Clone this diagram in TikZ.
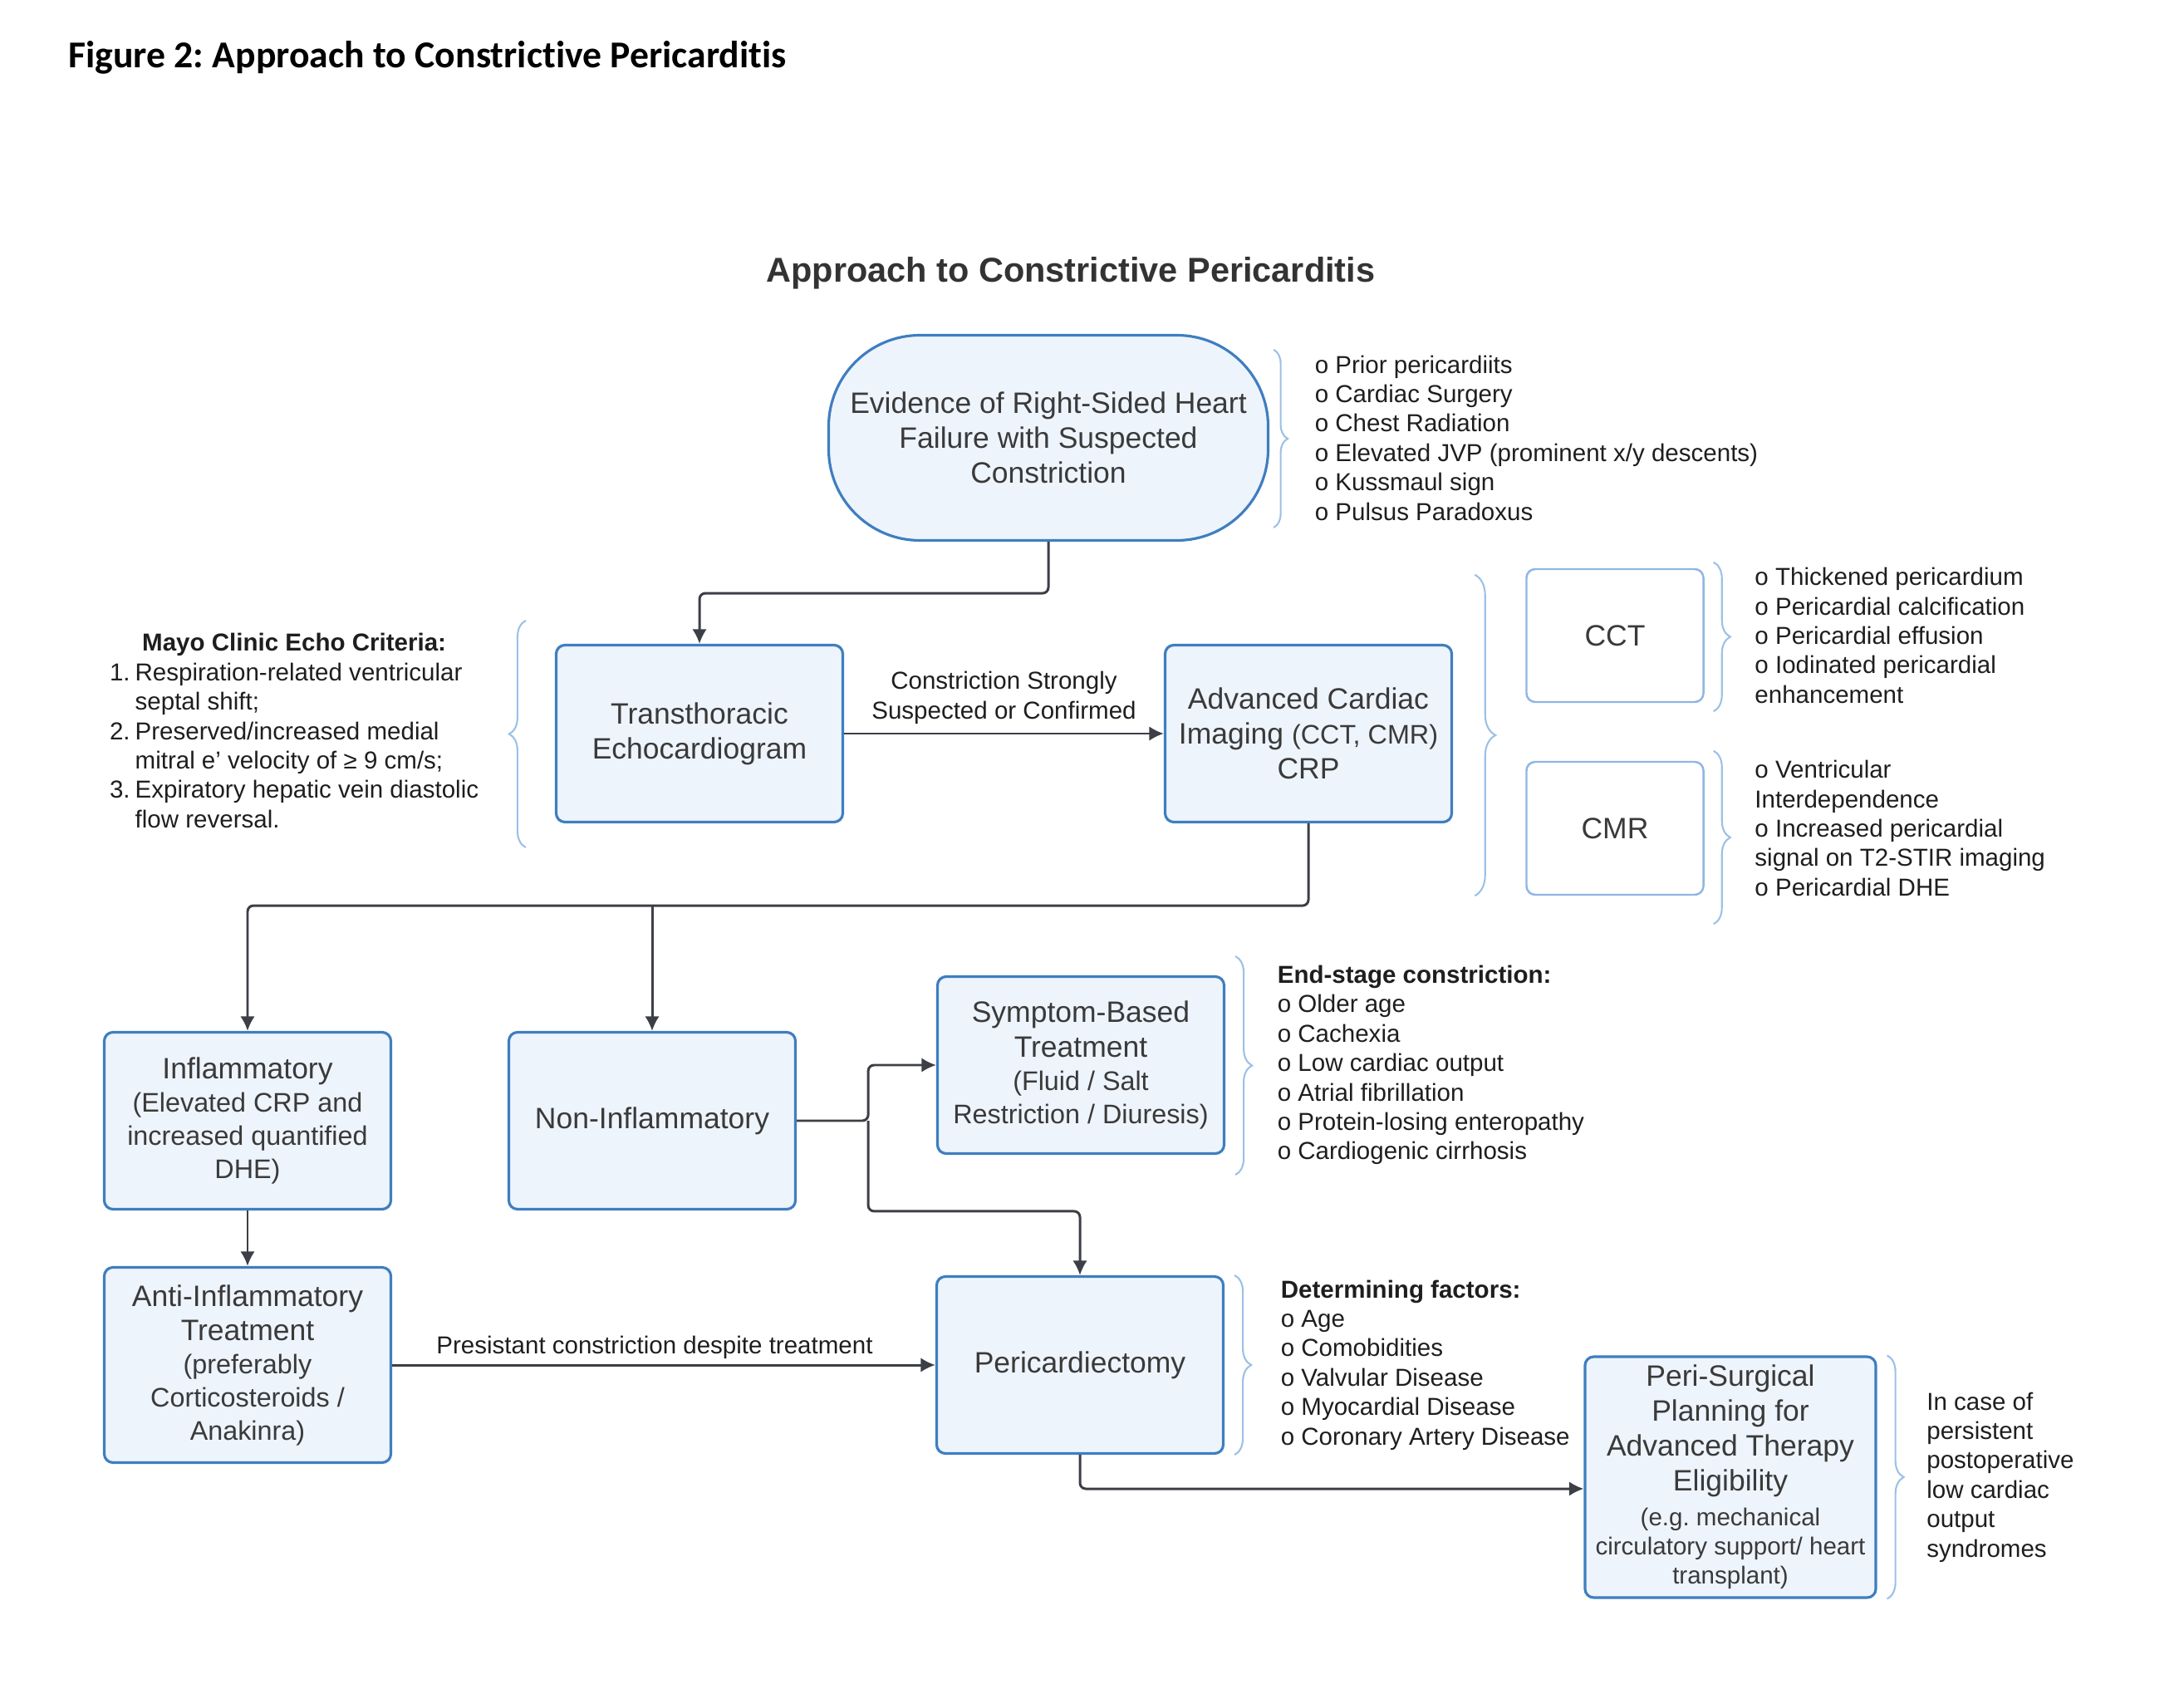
\documentclass[tikz,border=0pt]{standalone}
\usepackage{fontspec}
\setmainfont{Liberation Sans}
\newfontfamily\figfont[Ligatures=NoCommon]{Carlito}
\usetikzlibrary{positioning,arrows.meta,decorations.pathreplacing}
\frenchspacing
\hyphenpenalty=10000

\definecolor{boxfill}{HTML}{EEF4FC}
\definecolor{boxblue}{HTML}{3F7EC0}
\definecolor{thinblue}{HTML}{8EB6E3}
\definecolor{bracecol}{HTML}{9CC1E6}
\definecolor{linegray}{HTML}{3C3F45}
\definecolor{textgray}{HTML}{3A3A3A}
\definecolor{notetext}{HTML}{1E1E1E}
\definecolor{titlegray}{HTML}{333333}

\newcommand{\boxsize}{\fontsize{10.1}{11.9}\selectfont}
\newcommand{\subsize}{\fontsize{9.2}{11.3}\selectfont}
\newcommand{\notesize}{\fontsize{8.4}{10.07}\selectfont}

\begin{document}
\begin{tikzpicture}
                % Define styles
                \tikzstyle{box_main} = [font=\boxsize, rectangle, draw=boxblue, fill=boxfill, line width=0.9pt, text=textgray, text width=3.31cm, align=flush center, rounded corners=3pt, minimum height=2.13cm, inner sep=2pt]
                \tikzstyle{box_start} = [box_main, text width=5.15cm, minimum height=2.47cm, rounded corners=1.1cm]
                \tikzstyle{box_modality} = [box_main, draw=thinblue, fill=white, line width=0.7pt, text width=1.99cm, minimum height=1.6cm]
                \tikzstyle{note} = [font=\notesize, text=notetext, align=left, inner sep=0pt]
                \tikzstyle{line} = [draw=linegray, line width=0.85pt, rounded corners=2pt, -{Latex[length=5pt, width=5pt]}]
                \tikzstyle{brace_line} = [draw=bracecol, line width=0.6pt, decorate, decoration={brace, amplitude=0.2cm}]

                \useasboundingbox (0,0) rectangle (26.29,-20.33);

                % Titles
                \node [anchor=west, font=\figfont\bfseries\fontsize{13}{15}\selectfont] (fig_title) at (0.70,-0.69) {Figure 2: Approach to Constrictive Pericarditis};
                \node [font=\bfseries\fontsize{11.8}{14}\selectfont, text=titlegray] (chart_title) at (12.89,-3.29) {Approach to Constrictive Pericarditis};

                % Nodes
                \node [box_start] (start) at (12.62,-5.27) {Evidence of Right-Sided Heart\\ Failure with Suspected\\ Constriction};

                \node [box_main, below of=start, node distance=3.56cm, xshift=-4.20cm] (tte) {Transthoracic\\ Echocardiogram};
                \node [box_main, right of=tte, node distance=7.33cm] (aci) {Advanced Cardiac\\ Imaging {\subsize (CCT, CMR)}\\ CRP};

                \node [box_modality, right of=aci, node distance=3.69cm, yshift=1.18cm] (cct) {CCT};
                \node [box_modality, below of=cct, node distance=2.32cm] (cmr) {CMR};

                \node [box_main, below of=tte, node distance=4.66cm, xshift=-5.44cm] (inflam) {Inflammatory\\ \subsize (Elevated CRP and\\ increased quantified\\[-0.6pt] DHE)};
                \node [box_main, right of=inflam, node distance=4.87cm] (noninf) {Non-Inflammatory};
                \node [box_main, right of=noninf, node distance=5.16cm, yshift=0.67cm] (sbt) {Symptom-Based\\ Treatment\\ \subsize (Fluid / Salt\\[-0.6pt] Restriction / Diuresis)};

                \node [box_main, below of=inflam, node distance=2.94cm, minimum height=2.35cm] (antiinf) {Anti-Inflammatory\\ Treatment\\ \subsize (preferably\\ Corticosteroids /\\[-0.6pt] Anakinra)};
                \node [box_main, right of=antiinf, node distance=10.02cm] (peri) {Pericardiectomy};
                \node [box_main, right of=peri, node distance=7.83cm, yshift=-1.35cm, minimum height=2.90cm, text width=3.36cm] (ps) {Peri-Surgical\\ Planning for\\ Advanced Therapy\\ Eligibility\\[1.9pt] \notesize (e.g. mechanical\\ circulatory support/ heart\\[-1.9pt] transplant)};

                % Notes
                \node [note, right=0.54cm of start] (start_notes) {o Prior pericardiits\\ o Cardiac Surgery\\ o Chest Radiation\\ o Elevated JVP (prominent x/y descents)\\ o Kussmaul sign\\ o Pulsus Paradoxus};
                \node [note, left=0.91cm of tte] (mayo_notes) {\begin{tabular}{@{}r@{\hspace{0.06cm}}l@{}}
                    \multicolumn{2}{c}{\textbf{Mayo Clinic Echo Criteria:}}\\
                    1. & Respiration-related ventricular\\
                       & septal shift;\\
                    2. & Preserved/increased medial\\
                       & mitral e’ velocity of ≥ 9 cm/s;\\
                    3. & Expiratory hepatic vein diastolic\\
                       & flow reversal.
                \end{tabular}};
                \node [note, right=0.60cm of cct] (cct_notes) {o Thickened pericardium\\ o Pericardial calcification\\ o Pericardial effusion\\ o Iodinated pericardial\\ enhancement};
                \node [note, right=0.60cm of cmr] (cmr_notes) {o Ventricular\\ Interdependence\\ o Increased pericardial\\ signal on T2-STIR imaging\\ o Pericardial DHE};
                \node [note, right=0.62cm of sbt] (endstage_notes) {\textbf{End-stage constriction:}\\ o Older age\\ o Cachexia\\ o Low cardiac output\\ o Atrial fibrillation\\ o Protein-losing enteropathy\\ o Cardiogenic cirrhosis};
                \node [note, right=0.67cm of peri] (factor_notes) {\textbf{Determining factors:}\\ o Age\\ o Comobidities\\ o Valvular Disease\\ o Myocardial Disease\\ o Coronary Artery Disease};
                \node [note, right=0.59cm of ps] (ps_notes) {In case of\\ persistent\\ postoperative\\ low cardiac\\ output\\ syndromes};

                % Braces
                \draw [brace_line, decoration={amplitude=0.17cm}] ([xshift=0.05cm, yshift=-0.19cm]start.north east) -- ([xshift=0.05cm, yshift=0.17cm]start.south east);
                \draw [brace_line] ([xshift=-0.35cm, yshift=-0.29cm]tte.south west) -- ([xshift=-0.35cm, yshift=0.28cm]tte.north west);
                \draw [brace_line, decoration={amplitude=0.25cm}] ([xshift=-0.61cm, yshift=-0.08cm]cct.north west) -- ([xshift=-0.61cm]cmr.south west);
                \draw [brace_line] ([xshift=0.11cm, yshift=0.07cm]cct.north east) -- ([xshift=0.11cm, yshift=-0.10cm]cct.south east);
                \draw [brace_line] ([xshift=0.11cm, yshift=0.12cm]cmr.north east) -- ([xshift=0.11cm, yshift=-0.34cm]cmr.south east);
                \draw [brace_line] ([xshift=0.12cm, yshift=0.23cm]sbt.north east) -- ([xshift=0.12cm, yshift=-0.24cm]sbt.south east);
                \draw [brace_line] ([xshift=0.12cm]peri.north east) -- ([xshift=0.12cm]peri.south east);
                \draw [brace_line] ([xshift=0.12cm]ps.north east) -- ([xshift=0.12cm]ps.south east);

                % Lines
                \path [line] (start.south) -- ++(0,-0.62) -| (tte.north);
                \path [line] (tte.east) -- node [note, above=0.1cm, align=center] (tte_label) {Constriction Strongly\\ Suspected or Confirmed} (aci.west);

                \path (aci.south) ++(0,-0.99) coordinate (img_bus);
                \path [line] (aci.south) -- (img_bus) -| (inflam.north);
                \path [line] (img_bus -| noninf.north) -- (noninf.north);

                \path (noninf.east) ++(0.86,0) coordinate (ni_bus);
                \path (peri.north) ++(0,0.77) coordinate (peri_bus);
                \path [line] (noninf.east) -- (ni_bus) |- (sbt.west);
                \path [line] (ni_bus) |- (peri_bus) -- (peri.north);

                \path [line] (inflam.south) -- (antiinf.north);
                \path [line] (antiinf.east) -- node [note, above=0.06cm, xshift=-0.11cm] (treat_label) {Presistant constriction despite treatment} (peri.west);

                \path [line] (peri.south) |- ([yshift=-0.14cm]ps.west);
            \end{tikzpicture}
\end{document}
